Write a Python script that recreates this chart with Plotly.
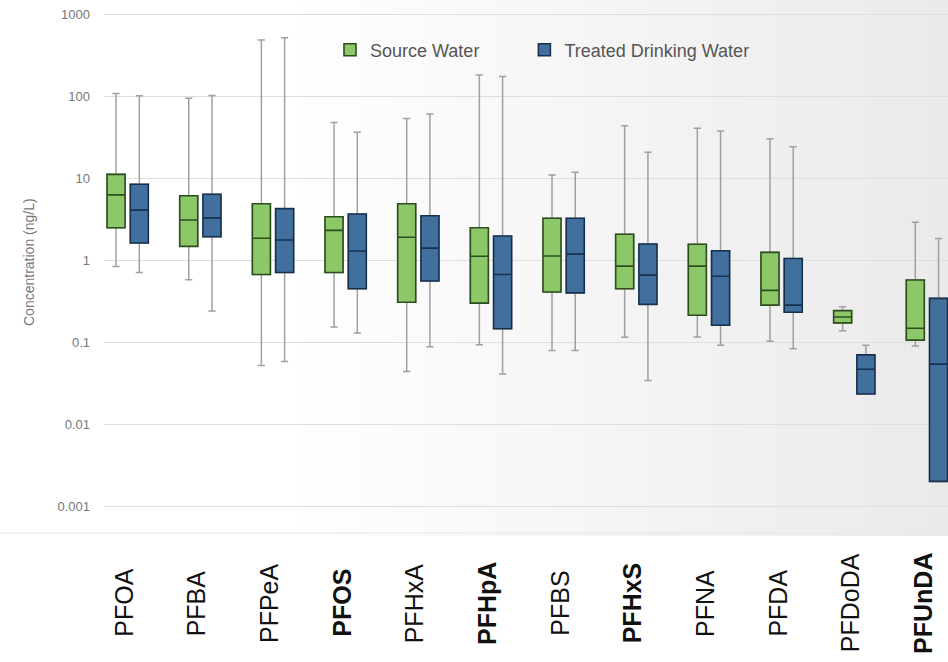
import plotly.graph_objects as go

# ---------------- data ----------------
categories = ["PFOA", "PFBA", "PFPeA", "PFOS", "PFHxA", "PFHpA",
              "PFBS", "PFHxS", "PFNA", "PFDA", "PFDoDA", "PFUnDA"]
bold_categories = ["PFOS", "PFHpA", "PFHxS", "PFUnDA"]

series_names = ["Source Water", "Treated Drinking Water"]

# Source water (ng/L)
src_low = [0.84, 0.58, 0.052, 0.153, 0.044, 0.093, 0.079, 0.115, 0.116, 0.103, 0.138, 0.090]
src_q1 = [2.5, 1.48, 0.67, 0.71, 0.307, 0.30, 0.41, 0.45, 0.213, 0.284, 0.172, 0.106]
src_med = [6.3, 3.1, 1.86, 2.32, 1.91, 1.12, 1.13, 0.85, 0.85, 0.43, 0.203, 0.148]
src_q3 = [11.2, 6.15, 4.9, 3.4, 4.9, 2.5, 3.26, 2.08, 1.57, 1.25, 0.243, 0.575]
src_high = [109, 95, 490, 48, 54, 183, 11, 44, 41, 30.5, 0.271, 2.91]

# Treated drinking water (ng/L)
trt_low = [0.71, 0.24, 0.058, 0.13, 0.088, 0.041, 0.079, 0.034, 0.092, 0.083, 0.0233, 0.002]
trt_q1 = [1.63, 1.94, 0.71, 0.45, 0.56, 0.146, 0.40, 0.29, 0.161, 0.232, 0.0233, 0.002]
trt_med = [4.1, 3.3, 1.77, 1.3, 1.41, 0.67, 1.19, 0.66, 0.64, 0.284, 0.0467, 0.054]
trt_q3 = [8.5, 6.4, 4.27, 3.67, 3.5, 1.98, 3.26, 1.58, 1.31, 1.05, 0.070, 0.343]
trt_high = [102, 103, 520, 36.5, 61, 175, 11.9, 20.8, 38, 24.4, 0.092, 1.84]

y_tick_vals = [0.001, 0.01, 0.1, 1, 10, 100, 1000]
y_tick_text = ["0.001", "0.01", "0.1", "1", "10", "100", "1000"]
y_title = "Concentration (ng/L)"

# ---------------- styles ----------------
W, H = 948, 662
ML, MB, MT, MR = 104, 130, 0, 0
PLOT_W = W - ML - MR
PLOT_H = H - MT - MB

fills = ["#8dc868", "#41709f"]
outlines = ["#2d4d1f", "#17304d"]
whisker_color = "#a0a0a0"
legend_pad = ["\u00a0" * 8, ""]

fig = go.Figure()

stats = [
    (src_low, src_q1, src_med, src_q3, src_high),
    (trt_low, trt_q1, trt_med, trt_q3, trt_high),
]

# whiskers (gray) underneath
for i, (lo, q1, md, q3, hi) in enumerate(stats):
    fig.add_trace(go.Box(
        x=categories, q1=q1, median=md, q3=q3, lowerfence=lo, upperfence=hi,
        name=series_names[i], offsetgroup=str(i), alignmentgroup="a",
        fillcolor="rgba(0,0,0,0)", line=dict(color=whisker_color, width=1.5),
        whiskerwidth=0.4, showlegend=False, hoverinfo="skip",
    ))

# filled boxes on top
for i, (lo, q1, md, q3, hi) in enumerate(stats):
    fig.add_trace(go.Box(
        x=categories, q1=q1, median=md, q3=q3, lowerfence=q1, upperfence=q3,
        name=series_names[i] + legend_pad[i], offsetgroup=str(i), alignmentgroup="a",
        fillcolor=fills[i], line=dict(color=outlines[i], width=1.6),
        whiskerwidth=0, showlegend=True,
    ))

# background gradient (white left -> light gray right), as paper shapes
shapes = []
n_strips = 60
band_bottom_px = 536
for k in range(n_strips):
    px0 = W * k / n_strips
    px1 = W * (k + 1) / n_strips + 1
    pc = (px0 + px1) / 2
    t = max(0.0, (pc - 280) / (W - 280))
    g = int(round(255 - 21 * t))
    shapes.append(dict(
        type="rect", xref="paper", yref="paper", layer="below",
        x0=(px0 - ML) / PLOT_W, x1=(px1 - ML) / PLOT_W,
        y0=(PLOT_H - band_bottom_px) / PLOT_H, y1=1.0,
        line=dict(width=0), fillcolor=f"rgb({g},{g},{g})",
    ))
# faint bottom edge of the band
shapes.append(dict(
    type="line", xref="paper", yref="paper", layer="below",
    x0=-ML / PLOT_W, x1=1.0,
    y0=(PLOT_H - 533) / PLOT_H, y1=(PLOT_H - 533) / PLOT_H,
    line=dict(color="#e6e6e6", width=1),
))

annotations = []
# category labels (centered, rotated)
for c in categories:
    txt = f"<b>{c}</b>" if c in bold_categories else c
    annotations.append(dict(
        x=c, xref="x", y=(PLOT_H - 603) / PLOT_H, yref="paper",
        text=txt, textangle=-90, showarrow=False, xshift=-4,
        xanchor="center", yanchor="middle",
        font=dict(family="Liberation Sans, Arial", size=25, color="#111111"),
    ))
# y title
annotations.append(dict(
    x=(29 - ML) / PLOT_W, xref="paper", y=(PLOT_H - 262) / PLOT_H, yref="paper",
    text=y_title, textangle=-90, showarrow=False,
    xanchor="center", yanchor="middle",
    font=dict(family="Liberation Sans, Arial", size=14, color="#777777"),
))

fig.update_layout(
    width=W, height=H, autosize=False,
    margin=dict(l=ML, r=MR, t=MT, b=MB, pad=0),
    paper_bgcolor="white", plot_bgcolor="rgba(0,0,0,0)",
    boxmode="group", boxgap=0.36, boxgroupgap=0.225,
    font=dict(family="Liberation Sans, Arial", color="#666666"),
    showlegend=True,
    legend=dict(
        orientation="h", x=(330 - ML) / PLOT_W, xanchor="left",
        y=(PLOT_H - 50) / PLOT_H, yanchor="middle",
        bgcolor="rgba(0,0,0,0)", font=dict(size=18, color="#555555"),
    ),
    shapes=shapes,
    annotations=annotations,
)

fig.update_xaxes(
    range=[-0.326, 11.29], showticklabels=False, showgrid=False,
    zeroline=False, showline=False, ticks="",
)
fig.update_yaxes(
    type="log", range=[-3.317, 3.178],
    tickvals=y_tick_vals, ticktext=y_tick_text,
    tickfont=dict(size=13, color="#777777"),
    showgrid=True, gridcolor="#dedede", gridwidth=1,
    zeroline=False, showline=False, ticks="", ticklabelstandoff=13,
)

fig.write_html("out.html", config={"displayModeBar": False},
               post_script="document.body.style.margin='0';")
